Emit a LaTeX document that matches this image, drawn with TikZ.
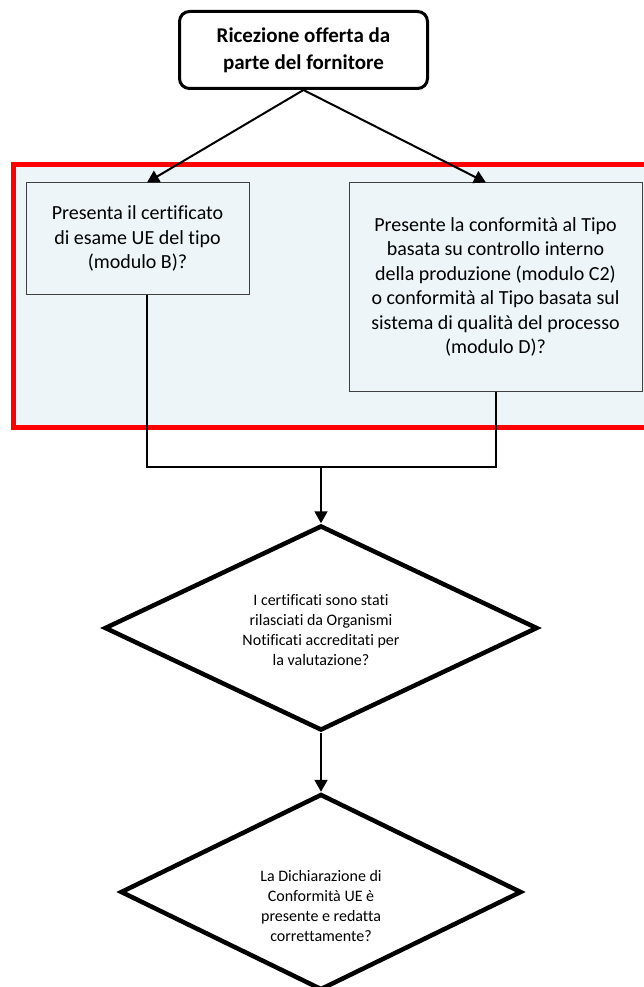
\documentclass[tikz,border=0pt]{standalone}
\usepackage{fontspec}
\setmainfont{Carlito}[Ligatures=NoCommon]
\usetikzlibrary{shapes.geometric,arrows.meta}
\definecolor{panelfill}{HTML}{EDF5F8}
\definecolor{framered}{HTML}{FF0000}
\definecolor{boxedge}{HTML}{404040}
\begin{document}
\begin{tikzpicture}[x=1pt,y=-1pt,
  startbox/.style={draw=black,line width=3pt,rounded corners=10pt,fill=white,
    minimum width=248pt,minimum height=77pt,inner sep=0pt,align=center,
    font=\fontsize{21}{27}\selectfont\bfseries},
  qbox/.style={draw=boxedge,line width=1pt,fill=panelfill,inner sep=0pt,align=center,
    font=\fontsize{20}{24.5}\selectfont},
  decision/.style={draw=black,line width=4.5pt,diamond,fill=white,inner sep=0pt},
  dtext/.style={align=center,font=\fontsize{16}{19.7}\selectfont},
  conn/.style={draw=black,line width=2pt},
  arr/.style={conn,-{Triangle[length=12pt,width=13pt]}}
]
\useasboundingbox (0,0) rectangle (644,987);
\fill[white] (0,0) rectangle (644,987);
% panel
\draw[framered,line width=5pt,fill=panelfill] (13.5,164.5) rectangle (660,427.5);
% nodes
\node[startbox] (top) at (303.5,50) {Ricezione offerta da\\parte del fornitore};
\node[qbox,minimum width=223pt,minimum height=111pt] (lb) at (137.5,238.5)
  {Presenta il certificato\\di esame UE del tipo\\(modulo B)?};
\node[qbox,minimum width=293pt,minimum height=208pt] (rb) at (495.5,287)
  {Presente la conformità al Tipo\\basata su controllo interno\\della produzione (modulo C2)\\o conformità al Tipo basata sul\\sistema di qualità del processo\\(modulo D)?};
\node[decision,minimum width=433pt,minimum height=205pt] (d1) at (321,628) {};
\node[dtext] (d1t) at (321,630) {I certificati sono stati\\rilasciati da Organismi\\Notificati accreditati per\\la valutazione?};
\node[decision,minimum width=401pt,minimum height=196pt] (d2) at (321,892) {};
\node[dtext] (d2t) at (321,906) {La Dichiarazione di\\Conformità UE è\\presente e redatta\\correttamente?};
% junction
\coordinate (jl) at (147,467);
\coordinate (jr) at (496,467);
\coordinate (jm) at (321,467);
% connectors
\draw[arr] (top.south) -- ([xshift=9.5pt]lb.north);
\draw[arr] (top.south) -- ([xshift=-9.5pt]rb.north);
\draw[conn] (lb.south -| jl) -- (jl) -- (jr) -- (rb.south -| jr);
\draw[arr] (jm) -- (d1.north);
\draw[arr] (d1.south) -- (d2.north);
\end{tikzpicture}
\end{document}
